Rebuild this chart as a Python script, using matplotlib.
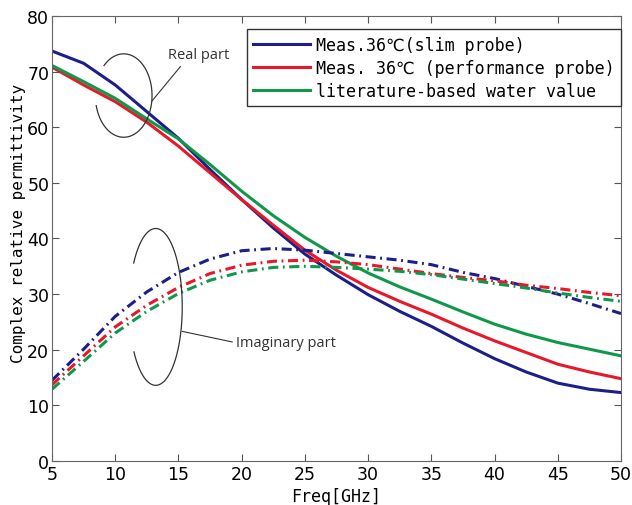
import numpy as np
import matplotlib
matplotlib.use('Agg')
import matplotlib.pyplot as plt

# frecuencias (GHz) y valores
freq = [5, 7.5, 10, 12.5, 15, 17.5, 20, 22.5, 25, 27.5, 30, 32.5, 35, 37.5, 40, 42.5, 45, 47.5, 50]

real_slim = [73.7, 71.5, 67.6, 62.8, 58.0, 52.4, 47.0, 41.9, 37.2, 33.4, 29.9, 26.9, 24.2, 21.2, 18.4, 16.0, 14.0, 12.9, 12.3]
real_perf = [70.8, 67.6, 64.6, 60.9, 56.6, 51.8, 47.0, 42.4, 37.9, 34.3, 31.2, 28.7, 26.4, 23.9, 21.6, 19.5, 17.4, 16.0, 14.8]
real_lit  = [71.1, 68.2, 65.2, 61.5, 57.9, 53.3, 48.5, 44.1, 40.2, 36.8, 33.8, 31.3, 29.1, 26.8, 24.6, 22.8, 21.3, 20.1, 18.9]

imag_slim = [14.5, 20.1, 26.0, 30.4, 33.9, 36.3, 37.8, 38.2, 37.9, 37.3, 36.7, 36.1, 35.3, 33.9, 32.8, 31.4, 30.0, 28.3, 26.5]
imag_perf = [13.7, 18.9, 24.1, 28.0, 31.2, 33.7, 35.2, 35.9, 36.1, 35.8, 35.3, 34.5, 33.7, 33.0, 32.4, 31.6, 31.0, 30.3, 29.7]
imag_lit  = [12.9, 17.9, 23.0, 26.9, 30.1, 32.5, 34.0, 34.8, 35.0, 34.8, 34.5, 34.1, 33.5, 32.7, 31.9, 31.1, 30.2, 29.4, 28.7]

labels = ['Meas.36\u2103(slim probe)', 'Meas. 36\u2103 (performance probe)', 'literature-based water value']
colores = ['#1c1f8a', '#e8182a', '#10984a']


def elipse_abierta(ax, cx, cy, rx, ry, gap_ini, gap_fin):
    # elipse de anotacion con un hueco entre gap_ini y gap_fin (grados)
    t = np.radians(np.linspace(gap_fin, gap_ini + 360, 200))
    ax.plot(cx + rx*np.cos(t), cy + ry*np.sin(t), color='#333333', linewidth=0.9)


fig = plt.figure(figsize=(6.32, 5.06), dpi=100)
ax = fig.add_axes([0.0823, 0.087, 0.9003, 0.8794])

dashdot = (0, (3.3, 1.5, 0.6, 1.5))
ax.plot(freq, real_slim, color=colores[0], linewidth=2.2, label=labels[0])
ax.plot(freq, real_perf, color=colores[1], linewidth=2.2, label=labels[1])
ax.plot(freq, real_lit, color=colores[2], linewidth=2.2, label=labels[2])
ax.plot(freq, imag_slim, color=colores[0], linewidth=2.2, linestyle=dashdot)
ax.plot(freq, imag_perf, color=colores[1], linewidth=2.2, linestyle=dashdot)
ax.plot(freq, imag_lit, color=colores[2], linewidth=2.2, linestyle=dashdot)

# anotaciones
elipse_abierta(ax, 10.67, 65.7, 2.24, 7.5, 134, 194)
ax.plot([12.9, 15.15], [64.7, 70.9], color='#333333', linewidth=0.8)
ax.text(14.2, 73.0, 'Real part', fontsize=10.5, family=['Open Sans', 'DejaVu Sans'], va='center', color='#333333')

elipse_abierta(ax, 13.2, 27.7, 2.1, 14.1, 146, 215)
ax.plot([15.3, 19.25], [23.3, 21.4], color='#333333', linewidth=0.8)
ax.text(19.55, 21.3, 'Imaginary part', fontsize=10.5, family=['Open Sans', 'DejaVu Sans'], va='center', color='#333333')

ax.set_xlim(5, 50)
ax.set_ylim(0, 80)
ax.set_xticks(np.arange(5, 51, 5))
ax.set_yticks(np.arange(0, 81, 10))
ax.tick_params(direction='in', top=True, right=True, length=5, color='#555555', pad=2)
ax.tick_params(axis='x', pad=3)
for lab in ax.get_xticklabels() + ax.get_yticklabels():
    lab.set_family(['Liberation Sans Narrow', 'DejaVu Sans'])
    lab.set_fontsize(12.5)
for sp in ax.spines.values():
    sp.set_color('#666666')

ax.set_xlabel('Freq[GHz]', fontsize=12, family=['DejaVu Sans Mono', 'DejaVu Sans'], labelpad=3)
ax.set_ylabel('Complex relative permittivity', fontsize=11.5, family=['DejaVu Sans Mono', 'DejaVu Sans'])
ax.yaxis.set_label_coords(-0.045, 0.537)

leg = ax.legend(loc='upper right', bbox_to_anchor=(1.0, 0.971),
                prop={'family': ['DejaVu Sans Mono', 'DejaVu Sans'], 'size': 12},
                handlelength=3.4, handletextpad=0.35, labelspacing=0.3, borderpad=0.4,
                borderaxespad=0, fancybox=False, framealpha=1)
leg.get_frame().set_edgecolor('#333333')
leg.get_frame().set_linewidth(1.0)

fig.savefig('out.png', dpi=100)
